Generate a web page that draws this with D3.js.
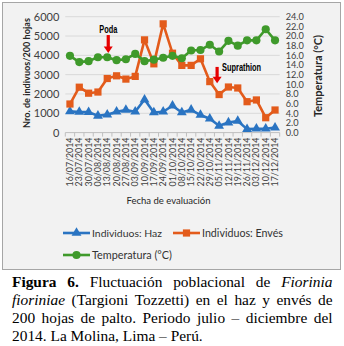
<!DOCTYPE html>
<html><head><meta charset="utf-8">
<script src="https://cdn.jsdelivr.net/npm/d3@7"></script>
<style>body{margin:0;background:#fff}svg{display:block}</style>
</head><body><svg id="c" width="344" height="346"></svg>
<script>
const dates = ["16/07/2014","23/07/2014","30/07/2014","06/08/2014","13/08/2014","20/08/2014","27/08/2014","03/09/2014","10/09/2014","17/09/2014","24/09/2014","01/10/2014","08/10/2014","15/10/2014","22/10/2014","29/10/2014","05/11/2014","12/11/2014","19/11/2014","26/11/2014","03/12/2014","10/12/2014","17/12/2014"];
const haz = [1100,1070,1060,870,930,1080,1170,1080,1710,1040,1080,1390,1040,1180,910,720,350,520,600,180,200,200,260];
const enves = [1480,2350,2040,2100,2800,2940,2770,2910,4800,3560,5630,4110,3480,3480,3820,2640,1970,2360,2310,1600,1690,770,1170];
const temperatura = [15.9,14.6,14.8,15.6,15.6,15.0,15.2,16.3,14.8,15.1,15.5,15.9,15.4,17.0,17.1,18.2,16.8,19.0,18.0,19.1,19.1,21.4,19.1];
const leftTicks = [0,1000,2000,3000,4000,5000,6000];
const rightTicks = [0,2,4,6,8,10,12,14,16,18,20,22,24];
const seriesNames = ["Individuos: Haz","Individuos: Envés","Temperatura (°C)"];
const seriesColors = ["#2a74c2","#e35b1b","#3f9a2b"];
const annotations = [{label:"Poda", date:"13/08/2014", top:5050, tip:4120, textVal:5150},
                     {label:"Suprathion", date:"05/11/2014", top:3400, tip:2560, textVal:3180}];

const svg = d3.select("#c");
const FONT = "Lato, 'Open Sans', sans-serif";
svg.append("rect").attr("x",2.5).attr("y",2.5).attr("width",338).attr("height",267)
  .attr("fill","#f2f2f2").attr("stroke","#a6a6a6");

const P = {l:65.3, r:279.7, t:16.7, b:132.6};
const x = d3.scaleBand().domain(dates).range([P.l, P.r]);
const cx = d => x(d) + x.bandwidth()/2;
const yL = d3.scaleLinear().domain([0,6000]).range([P.b, P.t]);
const yR = d3.scaleLinear().domain([0,24]).range([P.b, P.t]);

// gridlines
svg.append("g").selectAll("line").data(leftTicks.filter(d=>d>0)).join("line")
  .attr("x1",P.l).attr("x2",P.r).attr("y1",d=>yL(d)).attr("y2",d=>yL(d))
  .attr("stroke","#d9d9d9").attr("stroke-width",1);

// bottom axis line + ticks at category boundaries
svg.append("line").attr("x1",P.l).attr("x2",P.r).attr("y1",P.b).attr("y2",P.b).attr("stroke","#bfbfbf");
svg.append("g").selectAll("line").data(dates.concat(["_end"])).join("line")
  .attr("x1",d=>d==="_end"?P.r:x(d)).attr("x2",d=>d==="_end"?P.r:x(d))
  .attr("y1",P.b).attr("y2",P.b+4).attr("stroke","#bfbfbf");

// left axis
const gl = svg.append("g").attr("transform",`translate(${P.l},0)`)
  .call(d3.axisLeft(yL).tickValues(leftTicks).tickSize(0).tickPadding(6).tickFormat(d3.format("d")));
gl.select(".domain").remove();
gl.selectAll("text").attr("fill","#404040").style("font-family",FONT).style("font-size","11px");

// right axis
const gr = svg.append("g").attr("transform",`translate(${P.r},0)`)
  .call(d3.axisRight(yR).tickValues(rightTicks).tickSize(0).tickPadding(6).tickFormat(d3.format(".1f")));
gr.select(".domain").remove();
gr.selectAll("text").attr("fill","#404040").style("font-family",FONT).style("font-size","9.2px");

// bottom axis labels
const gb = svg.append("g").attr("transform",`translate(0,${P.b})`)
  .call(d3.axisBottom(x).tickSize(0));
gb.select(".domain").remove();
gb.selectAll("text").attr("fill","#404040").style("font-family",FONT).style("font-size","8.8px")
  .attr("text-anchor","end").attr("transform","rotate(-90)").attr("x",-5).attr("y",0).attr("dy","0.35em");

function fit(sel, w){ const n=sel.node(); const fs=parseFloat(sel.style("font-size")); const l=n.getComputedTextLength(); sel.style("font-size",(fs*w/l).toFixed(2)+"px"); }

// axis titles
const tl = svg.append("text").attr("transform","translate(30,73) rotate(-90)").attr("text-anchor","middle")
  .style("font-family",FONT).style("font-weight","bold").style("font-size","10px").attr("fill","#262626")
  .text("Nro. de indivuos/200 hojas");
fit(tl,110);
const tr = svg.append("text").attr("transform","translate(321.5,76) rotate(-90)").attr("text-anchor","middle")
  .style("font-family",FONT).style("font-weight","bold").style("font-size","10px").attr("fill","#262626")
  .text("Temperatura (°C)");
fit(tr,82);
const tb = svg.append("text").attr("x",168.5).attr("y",204).attr("text-anchor","middle")
  .style("font-family",FONT).style("font-size","11px").attr("fill","#262626")
  .text("Fecha de evaluación");
fit(tb,84);

// series
const series = [
  {vals:haz, y:yL, sym:d3.symbolTriangle, size:42},
  {vals:enves, y:yL, sym:d3.symbolSquare, size:52},
  {vals:temperatura, y:yR, sym:d3.symbolCircle, size:52}
];
series.forEach((s,k)=>{
  const line = d3.line().x((d,i)=>cx(dates[i])).y(d=>s.y(d));
  svg.append("path").datum(s.vals).attr("d",line).attr("fill","none")
    .attr("stroke",seriesColors[k]).attr("stroke-width",2.6).attr("stroke-linejoin","round");
  svg.append("g").selectAll("path").data(s.vals).join("path")
    .attr("transform",(d,i)=>`translate(${cx(dates[i])},${s.y(d)})`)
    .attr("d",d3.symbol().type(s.sym).size(s.size)).attr("fill",seriesColors[k]);
});

// annotations
annotations.forEach(a=>{
  const ax = cx(a.date) + (a.label==="Poda"?1:-2);
  const y0 = yL(a.top), y1 = yL(a.tip);
  svg.append("rect").attr("x",ax-1.6).attr("y",y0).attr("width",3.2).attr("height",(y1-y0)-6).attr("fill","#e60000");
  svg.append("path").attr("d",`M${ax-4.5},${y1-6.5}L${ax+4.5},${y1-6.5}L${ax},${y1}Z`).attr("fill","#e60000");
  const t = svg.append("text").style("font-family","'Liberation Sans Narrow','Arial Narrow',sans-serif")
    .style("font-weight","bold").style("font-size","11.5px").attr("fill","#000").text(a.label)
    .attr("y",yL(a.textVal));
  if(a.label==="Poda"){ t.attr("x",ax).attr("text-anchor","middle").attr("textLength",18).attr("lengthAdjust","spacingAndGlyphs"); }
  else { t.attr("x",ax+5).attr("textLength",39).attr("lengthAdjust","spacingAndGlyphs"); }
});

// legend
const legendPos = [{x:63,y:233,tw:70},{x:173,y:233,tw:81},{x:63,y:255,tw:80}];
seriesNames.forEach((n,k)=>{
  const p = legendPos[k];
  svg.append("line").attr("x1",p.x).attr("x2",p.x+27).attr("y1",p.y).attr("y2",p.y)
    .attr("stroke",seriesColors[k]).attr("stroke-width",2.6);
  svg.append("path").attr("transform",`translate(${p.x+13.5},${p.y})`)
    .attr("d",d3.symbol().type(series[k].sym).size(series[k].size)).attr("fill",seriesColors[k]);
  const t = svg.append("text").attr("x",p.x+29).attr("y",p.y).attr("dy","0.35em")
    .style("font-family",FONT).style("font-size","11px").attr("fill","#333").text(n);
  fit(t,p.tw);
});

// caption
const capLines = [
  {y:286.5, just:true, words:[["Figura","b"],["6.","b"],["Fluctuación",""],["poblacional",""],["de",""],["Fiorinia","i"]]},
  {y:304.7, just:true, words:[["fioriniae","i"],["(Targioni",""],["Tozzetti)",""],["en",""],["el",""],["haz",""],["y",""],["envés",""],["de",""]]},
  {y:322.9, just:true, words:[["200",""],["hojas",""],["de",""],["palto.",""],["Periodo",""],["julio",""],["–",""],["diciembre",""],["del",""]]},
  {y:341, just:false, words:[["2014.",""],["La",""],["Molina,",""],["Lima",""],["–",""],["Perú.",""]]}
];
const CL=12, CR=332.5, CFS=15.4;
capLines.forEach(L=>{
  const g = svg.append("g");
  const ts = L.words.map(([w,s])=>g.append("text").attr("y",L.y).text(w)
    .style("font-family","'Liberation Serif','Times New Roman',serif").style("font-size",CFS+"px")
    .style("font-weight",s==="b"?"bold":"normal").style("font-style",s==="i"?"italic":"normal").attr("fill","#000"));
  const ws = ts.map(t=>t.node().getComputedTextLength());
  const tot = d3.sum(ws);
  const gap = L.just ? (CR-CL-tot)/(ws.length-1) : CFS*0.25;
  let xx = CL;
  ts.forEach((t,i)=>{ t.attr("x",xx); xx += ws[i]+gap; });
});
</script></body></html>
